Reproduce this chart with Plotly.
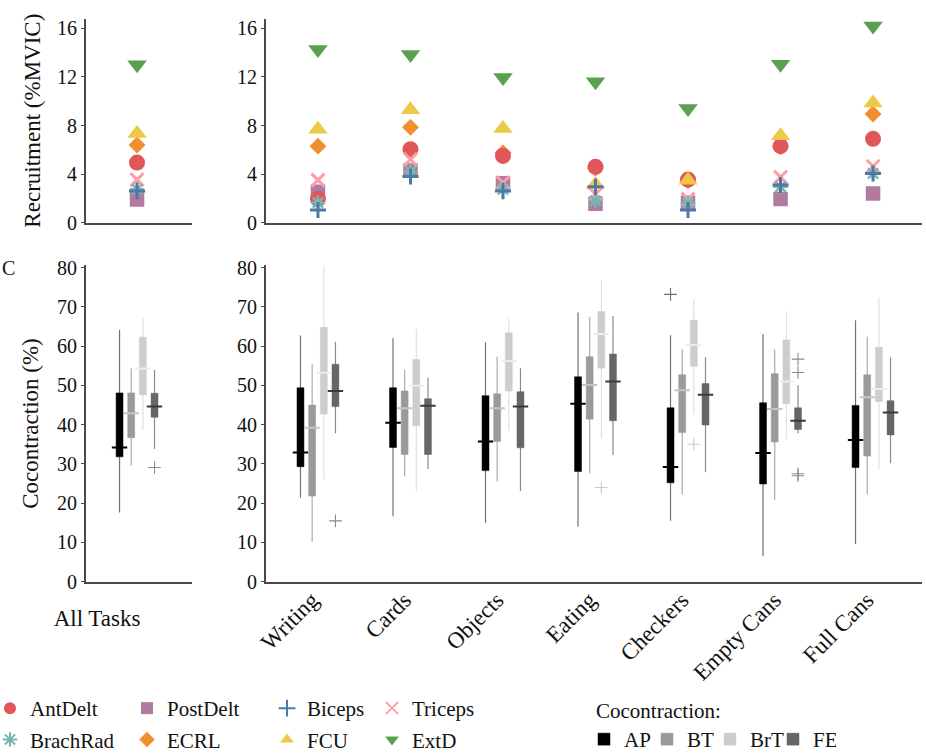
import plotly.graph_objects as go

W, H = 926, 754
FONT = "Liberation Serif"

# ---------------- data ----------------
ALL_LABEL = "All Tasks"
TASKS = ["Writing", "Cards", "Objects", "Eating", "Checkers", "Empty Cans", "Full Cans"]

# Recruitment (%MVIC); first value = All Tasks, then the seven tasks
ANTDELT  = [4.95, 1.95, 6.05, 5.50, 4.60, 3.55, 6.30, 6.90]
POSTDELT = [1.90, 2.55, 4.30, 3.25, 1.55, 1.65, 1.95, 2.40]
BICEPS   = [2.60, 1.05, 3.80, 2.60, 2.95, 1.05, 3.10, 4.05]
TRICEPS  = [3.55, 3.50, 5.20, 3.30, 2.35, 1.95, 3.75, 4.65]
BRACHRAD = [2.75, 1.65, 4.20, 2.75, 1.80, 1.60, 2.95, 4.05]
ECRL     = [6.40, 6.30, 7.85, 5.75, 4.50, 3.45, 6.25, 8.95]
FCU      = [7.35, 7.70, 9.30, 7.75, 3.15, 3.50, 7.15, 9.85]
EXTD     = [13.00, 14.25, 13.85, 11.95, 11.60, 9.40, 13.05, 16.20]

# Cocontraction (%) box statistics; first value = All Tasks
AP_HI  = [64.1, 62.7, 62.0, 61.0, 68.6, 62.8, 63.1, 66.6]
AP_Q3  = [48.1, 49.4, 49.4, 47.4, 52.2, 44.3, 45.6, 44.9]
AP_MED = [34.2, 32.9, 40.5, 35.7, 45.3, 29.2, 32.8, 36.1]
AP_Q1  = [31.8, 29.3, 34.2, 28.3, 28.1, 25.2, 24.9, 29.1]
AP_LO  = [17.6, 21.4, 16.7, 15.0, 14.0, 15.5, 6.5, 9.6]

BT_HI  = [54.4, 55.4, 53.9, 57.3, 67.5, 59.2, 59.2, 62.4]
BT_Q3  = [48.1, 45.0, 48.6, 47.9, 57.3, 52.7, 53.0, 52.7]
BT_MED = [42.9, 39.2, 44.2, 44.2, 50.1, 48.8, 44.0, 47.0]
BT_Q1  = [36.7, 21.8, 32.4, 35.7, 41.4, 38.0, 35.6, 32.0]
BT_LO  = [29.6, 10.2, 26.8, 25.5, 27.6, 22.2, 20.8, 22.3]

BRT_HI  = [67.3, 80.9, 64.3, 67.1, 76.9, 72.0, 68.8, 72.4]
BRT_Q3  = [62.3, 64.8, 56.6, 63.4, 68.8, 66.6, 61.6, 59.7]
BRT_MED = [54.3, 53.2, 49.9, 56.2, 63.1, 60.3, 51.0, 49.1]
BRT_Q1  = [47.6, 42.7, 39.7, 48.6, 54.4, 54.9, 45.3, 45.9]
BRT_LO  = [38.6, 26.1, 22.9, 38.6, 36.5, 42.5, 36.3, 28.7]

FE_HI  = [53.9, 61.1, 52.0, 54.4, 67.7, 57.2, 50.1, 57.1]
FE_Q3  = [48.0, 55.4, 46.6, 48.4, 58.0, 50.5, 44.3, 46.1]
FE_MED = [44.6, 48.6, 44.8, 44.6, 51.0, 47.6, 41.0, 43.1]
FE_Q1  = [41.9, 44.6, 32.4, 34.1, 41.0, 39.9, 38.8, 37.4]
FE_LO  = [33.8, 37.8, 28.7, 23.1, 32.3, 27.9, 37.8, 30.2]

# Outliers: (index into [All Tasks] + TASKS, value)
AP_OUT  = [(5, 73.2)]
BT_OUT  = []
BRT_OUT = [(4, 24.0), (5, 35.0)]
FE_OUT  = [(0, 29.1), (1, 15.5), (6, 56.7), (6, 53.3), (6, 27.5), (6, 27.0)]

# ---------------- helpers ----------------
def fx(px):
    return px / W

def fy(px):
    return 1 - px / H

fig = go.Figure()

# muscles in drawing order (bottom -> top); legend placement by legend id + rank
muscles = [
    ("ExtD", EXTD, "triangle-down", "#59a14f", 17, None, "legend4", 2),
    ("ECRL", ECRL, "diamond", "#f28e2b", 13, None, "legend2", 2),
    ("PostDelt", POSTDELT, "square", "#b07aa1", 14.5, None, "legend2", 1),
    ("AntDelt", ANTDELT, "circle", "#e15759", 16, None, "legend", 1),
    ("FCU", FCU, "triangle-up", "#edc948", 17, None, "legend3", 2),
    ("Triceps", TRICEPS, "x-thin", "#ff9da7", 13, 3, "legend4", 1),
    ("BrachRad", BRACHRAD, "asterisk-open", "#76b7b2", 12, 2.5, "legend", 2),
    ("Biceps", BICEPS, "cross-thin", "#4e79a7", 11.5, 3, "legend3", 1),
]

for name, vals, sym, col, size, lw, leg, rank in muscles:
    if lw is None:
        marker = dict(symbol=sym, color=col, size=size, line=dict(width=0))
    else:
        marker = dict(symbol=sym, color=col, size=size, line=dict(width=lw, color=col))
    fig.add_trace(go.Scatter(
        x=[0], y=vals[:1], mode="markers", marker=marker, name=name,
        xaxis="x", yaxis="y", showlegend=False, hoverinfo="skip"))
    fig.add_trace(go.Scatter(
        x=list(range(len(TASKS))), y=vals[1:], mode="markers", marker=marker,
        name=name, xaxis="x2", yaxis="y2", legend=leg, legendrank=rank,
        legendgroup=name, hoverinfo="skip"))

# box groups
OFFS = [-0.189, -0.063, 0.063, 0.189]
BW = 0.075
groups = [
    ("AP", AP_Q1, AP_MED, AP_Q3, AP_LO, AP_HI, AP_OUT, "#000000", "#707070", "#000000", "#6e6e6e"),
    ("BT", BT_Q1, BT_MED, BT_Q3, BT_LO, BT_HI, BT_OUT, "#9a9a9a", "#ababab", "#c4c4c4", "#9a9a9a"),
    ("BrT", BRT_Q1, BRT_MED, BRT_Q3, BRT_LO, BRT_HI, BRT_OUT, "#cdcdcd", "#e0e0e0", "#ececec", "#c8c8c8"),
    ("FE", FE_Q1, FE_MED, FE_Q3, FE_LO, FE_HI, FE_OUT, "#666666", "#8a8a8a", "#3a3a3a", "#8a8a8a"),
]

for gi, (name, q1, med, q3, lo, hi, outs, fill, wcol, mcol, ocol) in enumerate(groups):
    off = OFFS[gi]
    for ax, sl, xs, show in [
        ("3", slice(0, 1), [0 + off], False),
        ("4", slice(1, None), [i + off for i in range(len(TASKS))], True),
    ]:
        # whiskers (thin lines from lower to upper fence)
        fig.add_trace(go.Box(
            x=xs, q1=med[sl], median=med[sl], q3=med[sl],
            lowerfence=lo[sl], upperfence=hi[sl],
            width=BW * 0.5, whiskerwidth=0, fillcolor="rgba(0,0,0,0)",
            line=dict(color=wcol, width=1.2), boxpoints=False,
            xaxis="x" + ax, yaxis="y" + ax, showlegend=False, hoverinfo="skip"))
        # solid interquartile box
        fig.add_trace(go.Box(
            x=xs, q1=q1[sl], median=med[sl], q3=q3[sl],
            lowerfence=q1[sl], upperfence=q3[sl],
            width=BW, whiskerwidth=0, fillcolor=fill,
            line=dict(color=fill, width=0.5), boxpoints=False,
            name=name, xaxis="x" + ax, yaxis="y" + ax,
            showlegend=show, legend="legend5", hoverinfo="skip"))
        # median tick
        fig.add_trace(go.Scatter(
            x=xs, y=med[sl], mode="markers",
            marker=dict(symbol="line-ew", size=11, line=dict(width=2, color=mcol)),
            xaxis="x" + ax, yaxis="y" + ax, showlegend=False, hoverinfo="skip"))
    o_left = [(i, v) for i, v in outs if i == 0]
    o_right = [(i, v) for i, v in outs if i > 0]
    for ax, pts, base in [("3", o_left, 0), ("4", o_right, 1)]:
        if pts:
            fig.add_trace(go.Scatter(
                x=[i - base + off for i, v in pts], y=[v for i, v in pts], mode="markers",
                marker=dict(symbol="cross-thin", size=9, line=dict(width=1.1, color=ocol)),
                xaxis="x" + ax, yaxis="y" + ax, showlegend=False, hoverinfo="skip"))

# ---------------- layout ----------------
AXC = "#4a4a4a"
tickfont = dict(family=FONT, size=20, color="#111111")
xlabfont = dict(family=FONT, size=23, color="#111111")
titlefont = dict(family=FONT, size=23, color="#111111")

LEFT = [fx(85.7), fx(191.7)]
RIGHT = [fx(265.7), fx(921.7)]
TOP = [fy(222.7), fy(18.6)]
BOT = [fy(581.7), fy(265.3)]

base_x = dict(showline=True, linecolor=AXC, linewidth=1.5, showgrid=False,
              zeroline=False, ticks="", tickfont=tickfont, automargin=False)
base_y = dict(showline=True, linecolor=AXC, linewidth=1.5, showgrid=False,
              zeroline=False, ticks="outside", ticklen=3, tickcolor=AXC,
              tickfont=tickfont, automargin=False)

fig.update_layout(
    width=W, height=H,
    margin=dict(l=0, r=0, t=0, b=0, autoexpand=False),
    paper_bgcolor="white", plot_bgcolor="white",
    font=dict(family=FONT, size=20, color="#111111"),
    boxmode="overlay",
    xaxis=dict(base_x, domain=LEFT, range=[-0.555, 0.591], showticklabels=False, anchor="y"),
    yaxis=dict(base_y, domain=TOP, range=[0, 16.8], tickvals=[0, 4, 8, 12, 16], anchor="x",
               title=dict(text="Recruitment (%MVIC)", font=titlefont, standoff=10)),
    xaxis2=dict(base_x, domain=RIGHT, range=[-0.565, 6.526], showticklabels=False, anchor="y2"),
    yaxis2=dict(base_y, domain=TOP, range=[0, 16.8], tickvals=[0, 4, 8, 12, 16], anchor="x2"),
    xaxis3=dict(base_x, domain=LEFT, range=[-0.555, 0.591], tickvals=[0], ticktext=[ALL_LABEL],
                tickangle=0, tickfont=xlabfont, anchor="y3", ticklabelstandoff=15,
                ticklabelshift=-40),
    yaxis3=dict(base_y, domain=BOT, range=[0, 80.6], tickvals=list(range(0, 81, 10)), anchor="x3",
                title=dict(text="Cocontraction (%)", font=titlefont, standoff=12)),
    xaxis4=dict(base_x, domain=RIGHT, range=[-0.565, 6.526], tickvals=list(range(len(TASKS))),
                ticktext=TASKS, tickangle=-45, tickfont=xlabfont, anchor="y4",
                ticklabelstandoff=-6, ticklabelshift=-6),
    yaxis4=dict(base_y, domain=BOT, range=[0, 80.6], tickvals=list(range(0, 81, 10)), anchor="x4"),
)

legfont = dict(family=FONT, size=21, color="#111111")
common_leg = dict(orientation="v", xanchor="left", yanchor="top", font=legfont,
                  bgcolor="rgba(0,0,0,0)", tracegroupgap=1, traceorder="grouped",
                  itemsizing="constant")
fig.update_layout(
    legend=dict(common_leg, x=fx(-10), y=fy(688)),
    legend2=dict(common_leg, x=fx(127), y=fy(688)),
    legend3=dict(common_leg, x=fx(267), y=fy(688)),
    legend4=dict(common_leg, x=fx(372), y=fy(688)),
    legend5=dict(orientation="h", xanchor="left", yanchor="top", x=fx(584), y=fy(719),
                 font=legfont, bgcolor="rgba(0,0,0,0)",
                 entrywidth=18, entrywidthmode="pixels"),
)

fig.add_annotation(text="Cocontraction:", x=fx(594), y=fy(711), xref="paper", yref="paper",
                   xanchor="left", yanchor="middle", showarrow=False, font=legfont)

fig.add_annotation(text="C", x=0, y=fy(268), xref="paper", yref="paper",
                   xanchor="left", xshift=0, showarrow=False,
                   font=dict(family=FONT, size=20, color="#111111"))

fig.write_html("out.html")
